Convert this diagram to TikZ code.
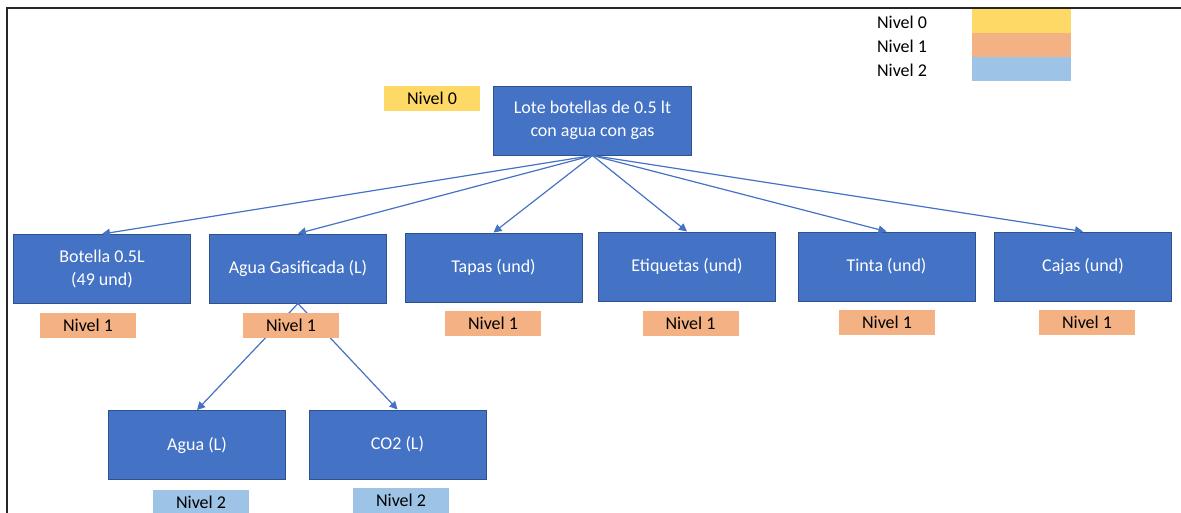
\documentclass[tikz,border=0pt]{standalone}
\usepackage{fontspec}
\setmainfont{Carlito}
\usetikzlibrary{arrows.meta}
\definecolor{bxfill}{HTML}{4472C4}
\definecolor{bxline}{HTML}{2F528F}
\definecolor{lvzero}{HTML}{FFD966}
\definecolor{lvone}{HTML}{F4B183}
\definecolor{lvtwo}{HTML}{9DC3E6}
\tikzset{bx/.style={draw=bxline,fill=bxfill,text=white,line width=.75pt,minimum width=132.75pt,minimum height=51.75pt,align=center,inner sep=0pt},
 lv/.style={minimum width=72pt,minimum height=18.75pt,inner sep=0pt},
 lz/.style={lv,fill=lvzero},lo/.style={lv,fill=lvone},lt/.style={lv,fill=lvtwo},
 sw/.style={minimum width=74.25pt,minimum height=18pt,inner sep=0pt},
 conn/.style={-{Triangle[length=6pt,width=6pt]},draw=bxfill,line width=.9pt}}

\begin{document}
\begin{tikzpicture}[x=.75pt,y=-.75pt,font=\fontsize{13.5}{17.25}\selectfont]
\clip (0,0) rectangle (1181,512);
\draw[black!85,line width=1.5pt](6.5,530)--(6.5,8)--(1200,8);
% legend
\node(k0) at (902,22.5){Nivel 0};\node(k1) at (902,46.5){Nivel 1};\node(k2) at (902,70.5){Nivel 2};
\node[sw,fill=lvzero](s0) at (1021.5,21){};\node[sw,fill=lvone](s1) at (1021.5,45){};
\node[sw,fill=lvtwo](s2) at (1021.5,69){};
% tree
\node[bx,minimum width=148.5pt](lote) at (592.5,120.5){Lote botellas de 0.5 lt\\con agua con gas};
\node[bx](bot) at (102,269){Botella 0.5L\\(49 und)};
\node[bx](gas) at (298,268.5){Agua Gasificada (L)};
\node[bx](tap) at (493.5,267.5){Tapas (und)};
\node[bx](eti) at (687,266.5){Etiquetas (und)};
\node[bx](tin) at (886.5,266.5){Tinta (und)};
\node[bx](caj) at (1083,266.5){Cajas (und)};
\node[bx](agu) at (197,445){Agua (L)};
\node[bx](co2) at (397.5,444.5){CO2 (L)};
\foreach \c in {bot,gas,tap,eti,tin,caj}\draw[conn](lote.south)--(\c.north);
\draw[conn](gas.south)--(agu.north);\draw[conn](gas.south)--(co2.north);
% level tags
\node[lz](t0) at (432,98.5){Nivel 0};
\node[lo](tbot) at (88,325){Nivel 1};\node[lo](tgas) at (291,325){Nivel 1};
\node[lo](ttap) at (493,323){Nivel 1};\node[lo](teti) at (690.5,323){Nivel 1};
\node[lo](ttin) at (887,322.5){Nivel 1};\node[lo](tcaj) at (1087,322.5){Nivel 1};
\node[lt](tagu) at (201,502.5){Nivel 2};\node[lt](tco2) at (401,500.5){Nivel 2};
\end{tikzpicture}
\end{document}
